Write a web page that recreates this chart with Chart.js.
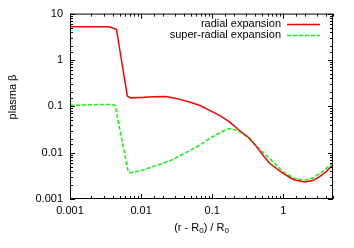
<!DOCTYPE html>
<html>
<head>
<meta charset="utf-8">
<script src="https://cdn.jsdelivr.net/npm/chart.js@4/dist/chart.umd.min.js"></script>
<style>
  body { margin: 0; background: #fff; }
  #wrap { width: 354px; height: 248px; }
</style>
</head>
<body>
<div id="wrap"><canvas id="chart"></canvas></div>
<script>
// values
let radialX = [0.001, 0.002, 0.0035, 0.0045, 0.0064, 0.0072, 0.01, 0.015, 0.022, 0.03, 0.048, 0.067, 0.092, 0.13, 0.175, 0.242, 0.334, 0.42, 0.514, 0.64, 0.98, 1.4, 2.0, 2.6, 3.2, 4, 5];
let radialY = [5.2, 5.2, 5.2, 4.6, 0.165, 0.152, 0.155, 0.16, 0.162, 0.15, 0.124, 0.104, 0.082, 0.062, 0.046, 0.03, 0.0205, 0.0135, 0.0089, 0.0059, 0.0036, 0.0026, 0.00233, 0.0025, 0.003, 0.0039, 0.0055];
let superX = [0.001, 0.002, 0.0035, 0.0043, 0.0066, 0.0072, 0.01, 0.0183, 0.0267, 0.04, 0.0665, 0.092, 0.134, 0.175, 0.21, 0.27, 0.334, 0.42, 0.514, 0.64, 0.98, 1.4, 2.0, 2.6, 3.2, 4, 5];
let superY = [0.105, 0.108, 0.11, 0.105, 0.0038, 0.0037, 0.0041, 0.0056, 0.0069, 0.0095, 0.0145, 0.0202, 0.028, 0.033, 0.031, 0.026, 0.0195, 0.0138, 0.0102, 0.0075, 0.0039, 0.0028, 0.00254, 0.0028, 0.0035, 0.0045, 0.0062];
let seriesNames = ["radial expansion", "super-radial expansion"];
let xTickValues = [0.001, 0.01, 0.1, 1];
let xTickLabels = ["0.001", "0.01", "0.1", "1"];
let yTickValues = [0.001, 0.01, 0.1, 1, 10];
let yTickLabels = ["0.001", "0.01", "0.1", "1", "10"];

const FONT = "Liberation Sans, Arial, sans-serif";

function toPoints(xs, ys) {
    return xs.map((x, i) => ({x: x, y: ys[i]}));
}

function isMajor(v) {
    let l = Math.log10(v);
    return Math.abs(l - Math.round(l)) < 1e-6;
}

function labelFor(v, values, labels) {
    for (let i = 0; i < values.length; i++) {
        if (Math.abs(v / values[i] - 1) < 1e-6) return labels[i];
    }
    return "";
}

// gnuplot style frame, inward ticks, legend and axis titles
const framePlugin = {
    id: "frame",
    afterDraw(chart) {
        let ctx = chart.ctx;
        let a = chart.chartArea;
        ctx.save();
        ctx.strokeStyle = "#000";
        ctx.lineWidth = 1;
        ctx.strokeRect(a.left + 0.5, a.top + 0.5, a.right - a.left - 1, a.bottom - a.top - 1);

        ctx.beginPath();
        chart.scales.x.ticks.forEach(t => {
            let px = Math.round(chart.scales.x.getPixelForValue(t.value)) + 0.5;
            let len = isMajor(t.value) ? 5 : 3;
            ctx.moveTo(px, a.bottom);
            ctx.lineTo(px, a.bottom - len);
            ctx.moveTo(px, a.top);
            ctx.lineTo(px, a.top + len);
        });
        chart.scales.y.ticks.forEach(t => {
            let py = Math.round(chart.scales.y.getPixelForValue(t.value)) + 0.5;
            let len = isMajor(t.value) ? 5 : 3;
            ctx.moveTo(a.left, py);
            ctx.lineTo(a.left + len, py);
            ctx.moveTo(a.right, py);
            ctx.lineTo(a.right - len, py);
        });
        ctx.stroke();

        // legend, text right aligned with the line sample on its right
        ctx.font = "11px " + FONT;
        ctx.textAlign = "right";
        ctx.textBaseline = "middle";
        chart.data.datasets.forEach((ds, i) => {
            let y = 24 + i * 11;
            ctx.fillStyle = "#000";
            ctx.fillText(ds.label, 281, y);
            ctx.strokeStyle = ds.borderColor;
            ctx.lineWidth = ds.borderWidth;
            ctx.setLineDash(ds.borderDash || []);
            ctx.beginPath();
            ctx.moveTo(287, y + 0.5);
            ctx.lineTo(320, y + 0.5);
            ctx.stroke();
        });
        ctx.setLineDash([]);

        // y title
        ctx.fillStyle = "#000";
        ctx.save();
        ctx.translate(13, 97);
        ctx.rotate(-Math.PI / 2);
        ctx.textAlign = "center";
        ctx.fillText("plasma β", 0, 0);
        ctx.restore();

        // x title with subscripts
        let parts = [["(r - R", false], ["0", true], [") / R", false], ["0", true]];
        let total = 0;
        parts.forEach(p => {
            ctx.font = (p[1] ? "8px " : "11px ") + FONT;
            total += ctx.measureText(p[0]).width;
        });
        let x = (a.left + a.right) / 2 - total / 2;
        ctx.textAlign = "left";
        parts.forEach(p => {
            ctx.font = (p[1] ? "8px " : "11px ") + FONT;
            ctx.fillText(p[0], x, p[1] ? 231 : 228);
            x += ctx.measureText(p[0]).width;
        });
        ctx.restore();
    }
};

new Chart(document.getElementById("chart"), {
    type: "line",
    data: {
        datasets: [{
            label: seriesNames[0],
            data: toPoints(radialX, radialY),
            borderColor: "#ff0000",
            borderWidth: 1.5,
            pointRadius: 0,
            tension: 0,
            fill: false
        }, {
            label: seriesNames[1],
            data: toPoints(superX, superY),
            borderColor: "#00ff00",
            borderWidth: 1.5,
            borderDash: [4, 2],
            pointRadius: 0,
            tension: 0,
            fill: false
        }]
    },
    plugins: [framePlugin],
    options: {
        responsive: true,
        maintainAspectRatio: false,
        animation: false,
        layout: {padding: {top: 13, right: 21, left: 0, bottom: 0}},
        plugins: {
            legend: {display: false},
            tooltip: {enabled: false}
        },
        scales: {
            x: {
                type: "logarithmic",
                min: 0.001,
                max: 5,
                afterFit: scale => { scale.height = 49; },
                grid: {display: false, drawTicks: false},
                border: {display: false},
                ticks: {
                    autoSkip: false,
                    maxRotation: 0,
                    padding: 5,
                    color: "#000",
                    font: {family: FONT, size: 11},
                    callback: v => labelFor(v, xTickValues, xTickLabels)
                }
            },
            y: {
                type: "logarithmic",
                min: 0.001,
                max: 10,
                afterFit: scale => { scale.width = 70; },
                grid: {display: false, drawTicks: false},
                border: {display: false},
                ticks: {
                    autoSkip: false,
                    padding: 7,
                    color: "#000",
                    font: {family: FONT, size: 11},
                    callback: v => labelFor(v, yTickValues, yTickLabels)
                }
            }
        }
    }
});
</script>
</body>
</html>
